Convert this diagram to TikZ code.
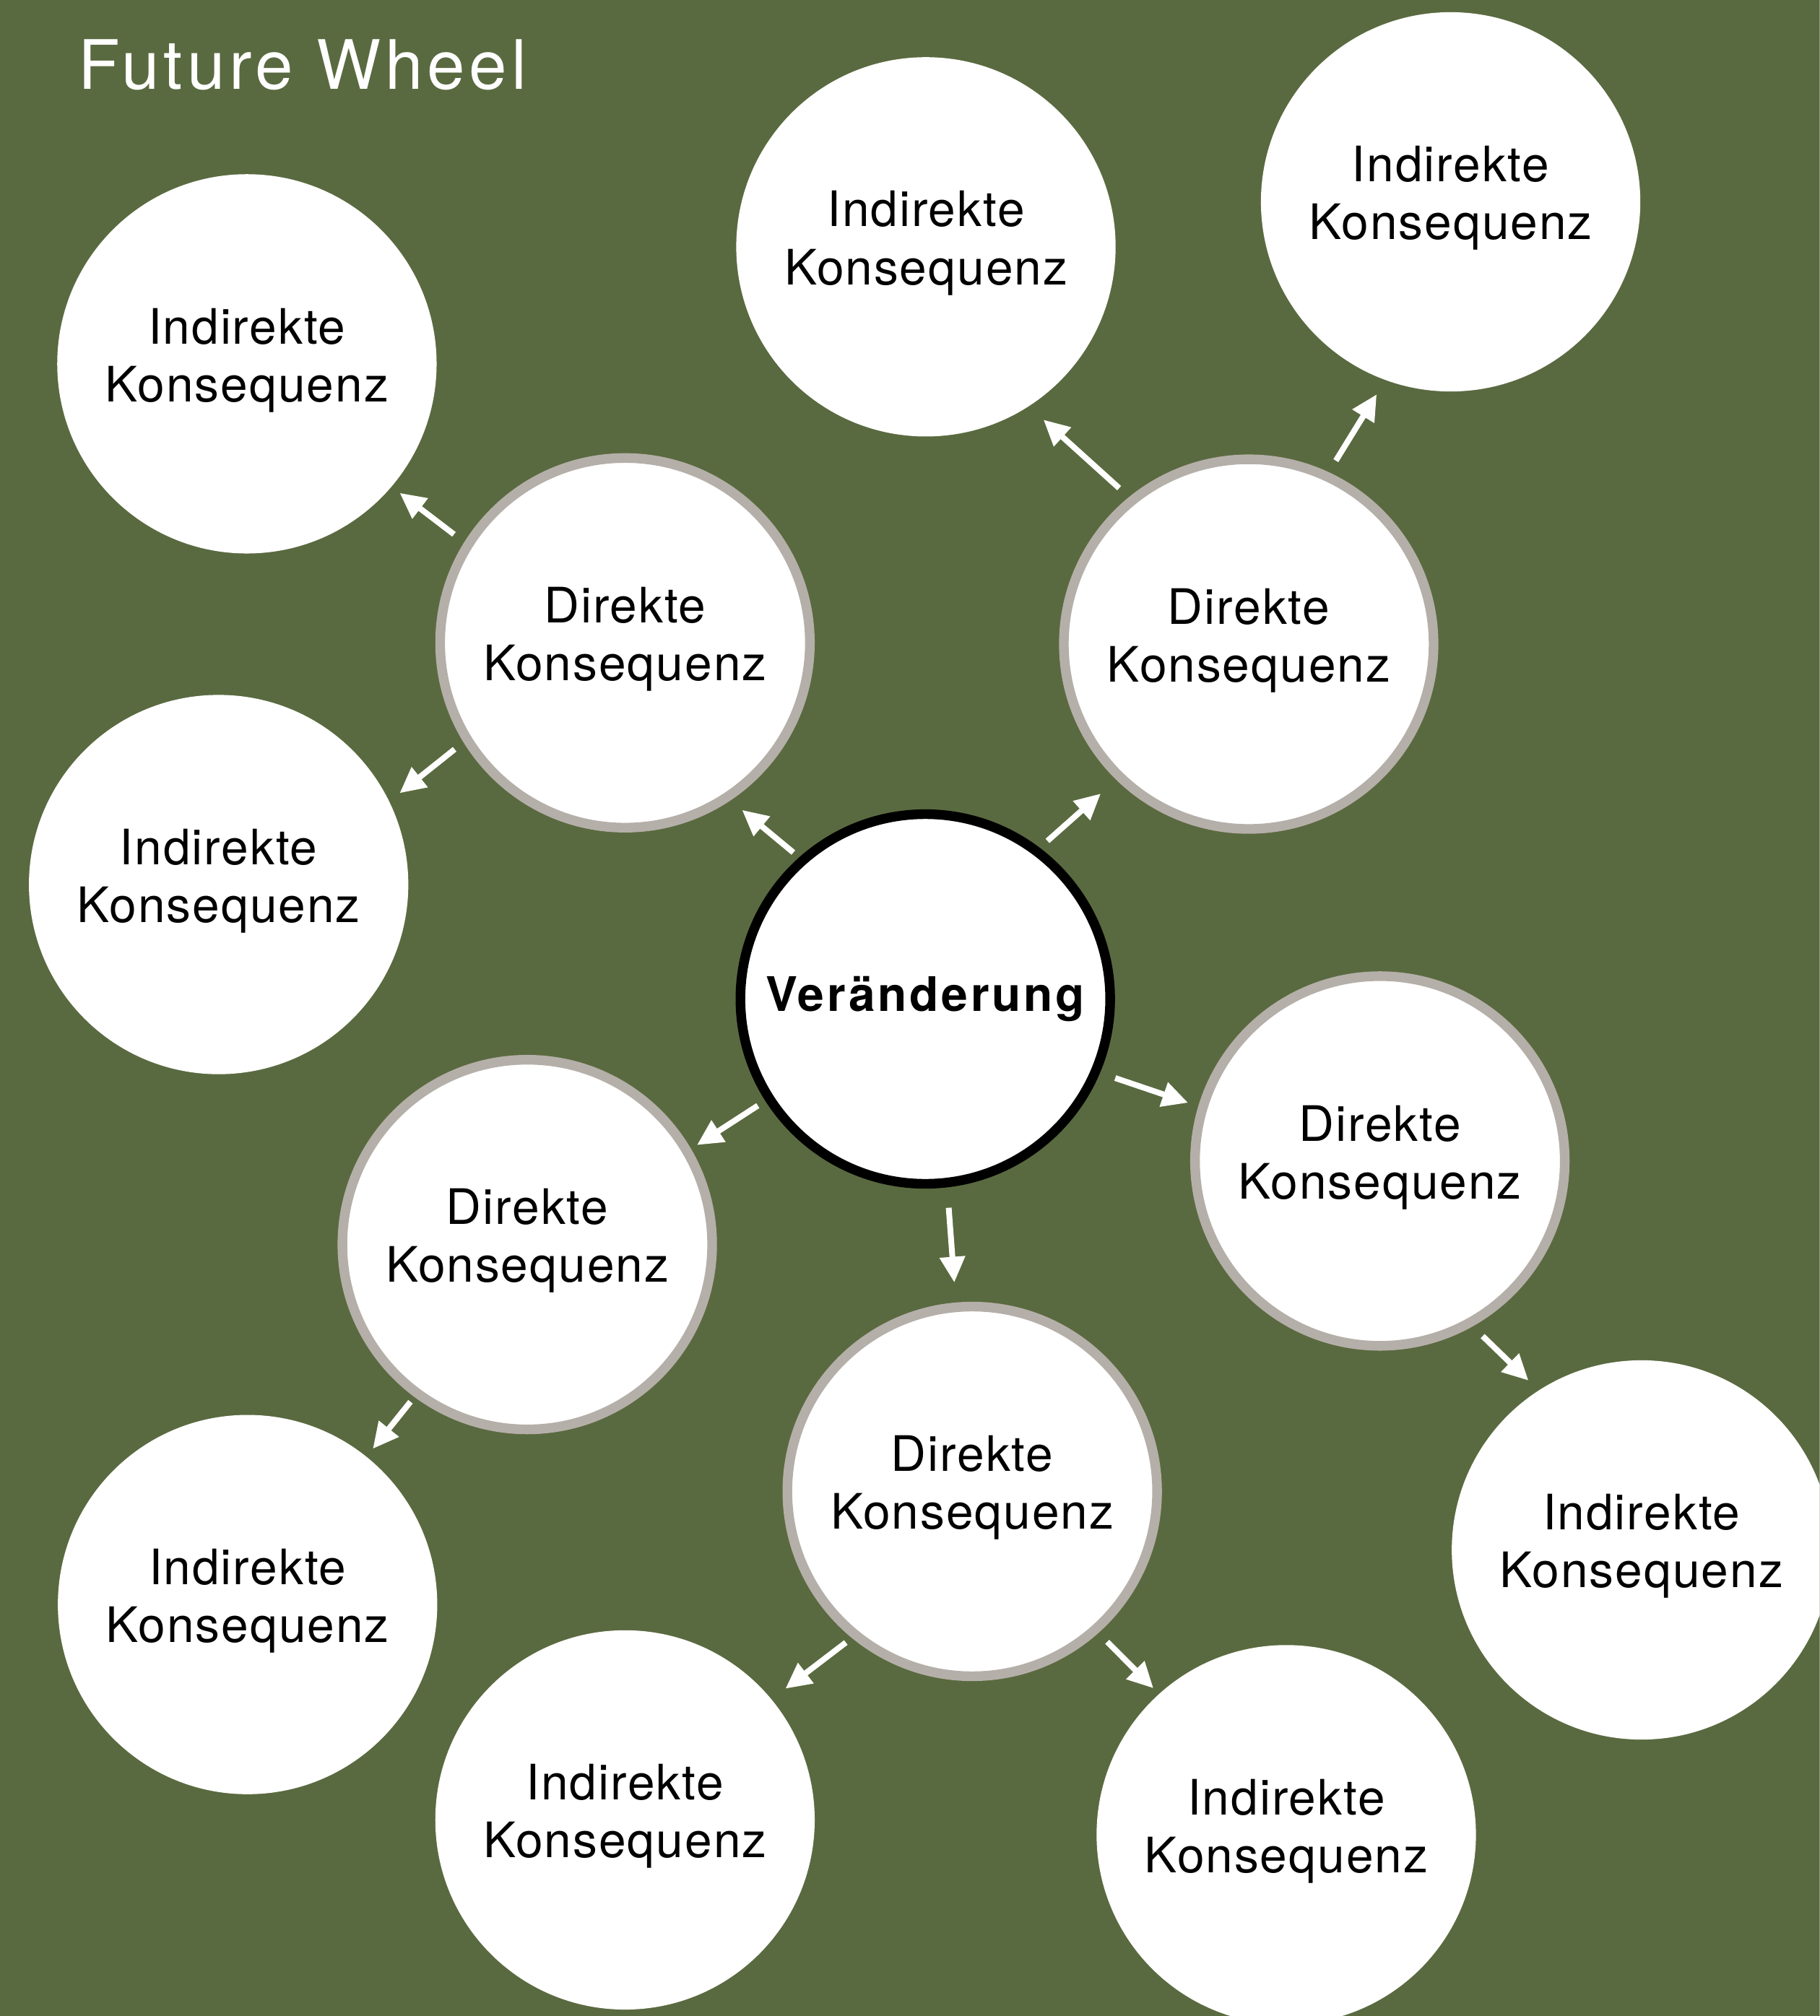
\documentclass[tikz,border=0pt]{standalone}
\usepackage{fontspec}
\usetikzlibrary{arrows.meta,calc}
\newfontfamily\kbody[LetterSpace=2.9]{TeX Gyre Heros}
\newfontfamily\kbold[LetterSpace=5.8]{TeX Gyre Heros}
\newfontfamily\ktitle[LetterSpace=6.2]{TeX Gyre Heros}
\definecolor{bgolive}{HTML}{5A6A40}
\definecolor{ringgrey}{HTML}{B5AFA9}
\begin{document}
\begin{tikzpicture}[x=1pt,y=1pt,
  disc/.style={circle, fill=white, inner sep=0pt, align=center, text=black},
  twoline/.style={font=\kbody\fontsize{38}{45}\selectfont, text depth=14pt},
  dk/.style={disc, twoline, draw=ringgrey, line width=7.5pt, minimum size=287.5pt},
  ik/.style={disc, twoline, minimum size=295pt},
  ctr/.style={disc, draw=black, line width=7.5pt, minimum size=287.5pt, font=\kbold\bfseries\fontsize{37}{44}\selectfont},
  arr/.style={draw=white, line width=4.5pt, -{Triangle[length=20pt,width=19pt]}}]
\path[use as bounding box] (0,0) rectangle (1415,1568);
\clip (0,0) rectangle (1415,1568);
\fill[bgolive] (0,0) rectangle (1415,1568);

\node[anchor=base west, inner sep=0pt, text=white, font=\ktitle\fontsize{53}{60}\selectfont] (title) at (60.7,1498.9) {Future Wheel};

% centre
\node[ctr] (c) at (719.5,791) {Veränderung};
% direct consequences
\node[dk] (dTL) at (486,1068) {Direkte\\Konsequenz};
\node[dk] (dTR) at (971,1067) {Direkte\\Konsequenz};
\node[dk] (dR)  at (1073,665) {Direkte\\Konsequenz};
\node[dk] (dBL) at (410,600) {Direkte\\Konsequenz};
\node[dk] (dB)  at (756,408) {Direkte\\Konsequenz};
% indirect consequences
\node[ik] (iTL)  at (192,1285)    {Indirekte\\Konsequenz};
\node[ik] (iL)   at (170,880)     {Indirekte\\Konsequenz};
\node[ik] (iTM)  at (720,1376)    {Indirekte\\Konsequenz};
\node[ik] (iTR)  at (1128,1411)   {Indirekte\\Konsequenz};
\node[ik] (iR)   at (1276.4,362.5){Indirekte\\Konsequenz};
\node[ik] (iBL)  at (192.5,320)   {Indirekte\\Konsequenz};
\node[ik] (iBML) at (486,152.5)   {Indirekte\\Konsequenz};
\node[ik] (iBR)  at (1000.2,141)  {Indirekte\\Konsequenz};

% arrows
\draw[arr] ($(c.center)+(132.0:153.3pt)$) -- ($(dTL.center)+(305.0:158.7pt)$);
\draw[arr] ($(c.center)+(52.3:155.4pt)$) -- ($(dTR.center)+(225.3:163.6pt)$);
\draw[arr] ($(c.center)+(337.4:160.0pt)$) -- ($(dR.center)+(163.1:155.9pt)$);
\draw[arr] ($(c.center)+(276.4:163.4pt)$) -- ($(dB.center)+(94.9:163.1pt)$);
\draw[arr] ($(c.center)+(212.5:154.4pt)$) -- ($(dBL.center)+(30.4:153.0pt)$);
\draw[arr] ($(dTL.center)+(147.6:157.5pt)$) -- ($(iTL.center)+(319.8:155.6pt)$);
\draw[arr] ($(dTL.center)+(212.0:156.2pt)$) -- ($(iL.center)+(26.8:157.7pt)$);
\draw[arr] ($(dTR.center)+(129.7:157.7pt)$) -- ($(iTM.center)+(304.2:162.6pt)$);
\draw[arr] ($(dTR.center)+(64.6:158.0pt)$) -- ($(iTR.center)+(249.0:160.4pt)$);
\draw[arr] ($(dR.center)+(300.4:157.9pt)$) -- ($(iR.center)+(123.7:158.4pt)$);
\draw[arr] ($(dBL.center)+(233.4:152.3pt)$) -- ($(iBL.center)+(51.2:155.5pt)$);
\draw[arr] ($(dB.center)+(230.1:153.2pt)$) -- ($(iBML.center)+(39.3:161.2pt)$);
\draw[arr] ($(dB.center)+(311.9:157.2pt)$) -- ($(iBR.center)+(132.2:153.8pt)$);
\end{tikzpicture}
\end{document}
